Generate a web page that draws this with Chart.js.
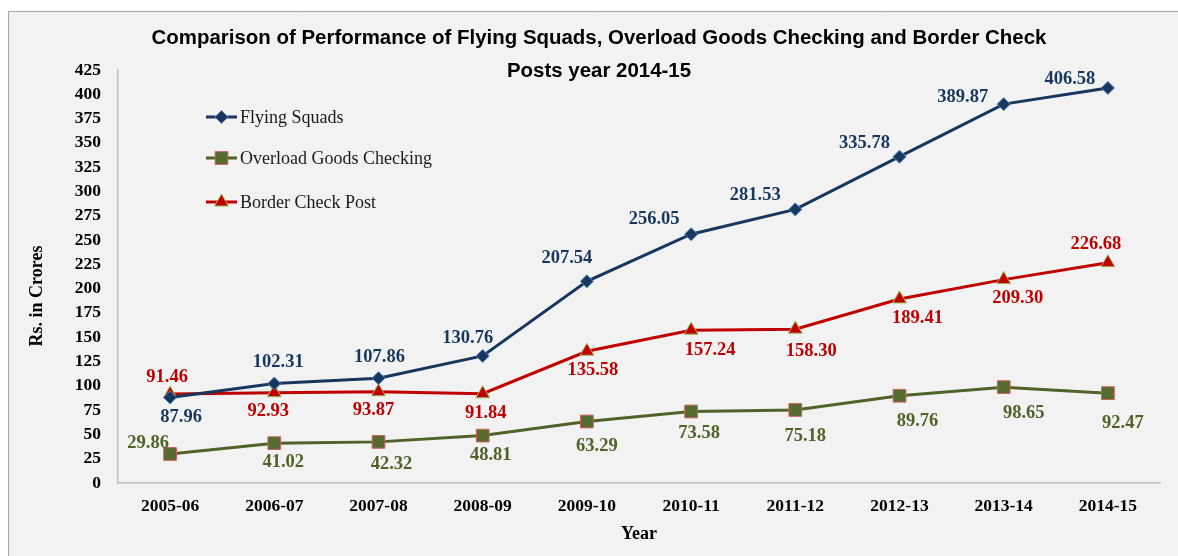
<!DOCTYPE html>
<html>
<head>
<meta charset="utf-8">
<script src="https://cdn.jsdelivr.net/npm/chart.js@4/dist/chart.umd.min.js"></script>
<style>
  html, body { margin: 0; padding: 0; background: #fff; }
  #wrap { width: 1178px; height: 556px; }
</style>
</head>
<body>
<div id="wrap"><canvas id="perfChart" width="1178" height="556"></canvas></div>
<script>
// chart data
const years = ["2005-06", "2006-07", "2007-08", "2008-09", "2009-10", "2010-11", "2011-12", "2012-13", "2013-14", "2014-15"];
const flyingSquads = [87.96, 102.31, 107.86, 130.76, 207.54, 256.05, 281.53, 335.78, 389.87, 406.58];
const overloadGoods = [29.86, 41.02, 42.32, 48.81, 63.29, 73.58, 75.18, 89.76, 98.65, 92.47];
const borderCheck = [91.46, 92.93, 93.87, 91.84, 135.58, 157.24, 158.30, 189.41, 209.30, 226.68];
const seriesNames = ["Flying Squads", "Overload Goods Checking", "Border Check Post"];
const yTicks = { min: 0, max: 425, step: 25 };

// where each value label sits relative to its point (dx, dy in px)
const fsLabelOffset = [[11, 20], [4, -21], [1, -21], [-15, -18], [-20, -23], [-37, -15], [-40, -14], [-35, -13], [-41, -7], [-38, -9]];
const ogLabelOffset = [[-22, -11], [9, 19], [13, 22], [8, 20], [10, 25], [8, 22], [10, 26], [18, 25], [20, 26], [15, 30]];
const bcLabelOffset = [[-3, -17], [-6, 19], [-5, 18], [3, 19], [6, 19], [19, 20], [16, 22], [18, 19], [14, 19], [-12, -19]];

const NAVY = "#17375e";
const OLIVE = "#4f6228";
const RED = "#c00000";
const SERIF = '"Liberation Serif", "Times New Roman", serif';

const frameAndText = {
  id: "frameAndText",
  beforeDraw(chart) {
    const ctx = chart.ctx;
    ctx.save();
    ctx.fillStyle = "#ffffff";
    ctx.fillRect(0, 0, chart.width, chart.height);
    ctx.fillStyle = "#f2f2f2";
    ctx.fillRect(8, 11, chart.width, chart.height);
    ctx.strokeStyle = "#a6a6a6";
    ctx.lineWidth = 1;
    ctx.beginPath();
    ctx.moveTo(8.5, chart.height);
    ctx.lineTo(8.5, 11.5);
    ctx.lineTo(chart.width, 11.5);
    ctx.stroke();
    ctx.restore();
  },
  afterDatasetsDraw(chart) {
    const ctx = chart.ctx;
    ctx.save();

    // value labels
    const offsets = [fsLabelOffset, ogLabelOffset, bcLabelOffset];
    ctx.font = "bold 18.5px " + SERIF;
    ctx.textAlign = "center";
    ctx.textBaseline = "middle";
    chart.data.datasets.forEach((ds, i) => {
      const meta = chart.getDatasetMeta(i);
      ctx.fillStyle = ds.borderColor;
      meta.data.forEach((pt, j) => {
        const off = offsets[i][j];
        ctx.fillText(ds.data[j].toFixed(2), pt.x + off[0], pt.y + off[1]);
      });
    });

    // legend
    const legendY = [117, 158, 202];
    ctx.font = "18px " + SERIF;
    ctx.textAlign = "left";
    chart.data.datasets.forEach((ds, i) => {
      const y = legendY[i];
      ctx.strokeStyle = ds.borderColor;
      ctx.lineWidth = 3;
      ctx.beginPath();
      ctx.moveTo(206, y);
      ctx.lineTo(237, y);
      ctx.stroke();
      ctx.fillStyle = ds.pointBackgroundColor;
      ctx.strokeStyle = ds.pointBorderColor;
      ctx.lineWidth = 1;
      Chart.helpers.drawPoint(ctx, {
        pointStyle: ds.pointStyle,
        radius: ds.pointRadius,
        borderWidth: 1
      }, 221.5, y);
      ctx.fillStyle = "#1a1a1a";
      ctx.fillText(ds.label, 240, y + 1);
    });

    // title
    const line1 = "Comparison of Performance of Flying Squads, Overload Goods Checking and Border Check";
    const line2 = "Posts year 2014-15";
    ctx.font = 'bold 20px "Liberation Sans", Arial, sans-serif';
    const w = ctx.measureText(line1).width;
    const size = 20 * 895 / w;
    ctx.font = 'bold ' + size.toFixed(2) + 'px "Liberation Sans", Arial, sans-serif';
    ctx.fillStyle = "#000";
    ctx.textAlign = "center";
    ctx.fillText(line1, 599, 38);
    ctx.fillText(line2, 599, 71);

    // y axis title
    ctx.font = "bold 18px " + SERIF;
    ctx.translate(37, 296);
    ctx.rotate(-Math.PI / 2);
    ctx.fillText("Rs. in Crores", 0, 0);
    ctx.restore();
  }
};

new Chart(document.getElementById("perfChart"), {
  type: "line",
  data: {
    labels: years,
    datasets: [
      {
        label: seriesNames[0],
        data: flyingSquads,
        borderColor: NAVY,
        borderWidth: 3,
        pointStyle: "rectRot",
        pointRadius: 6.5,
        pointBackgroundColor: NAVY,
        pointBorderColor: "#4f81bd",
        pointBorderWidth: 1,
        tension: 0
      },
      {
        label: seriesNames[1],
        data: overloadGoods,
        borderColor: OLIVE,
        borderWidth: 3,
        pointStyle: "rect",
        pointRadius: 9,
        pointBackgroundColor: "#566b30",
        pointBorderColor: "#d0605d",
        pointBorderWidth: 1,
        tension: 0
      },
      {
        label: seriesNames[2],
        data: borderCheck,
        borderColor: RED,
        borderWidth: 3,
        pointStyle: "triangle",
        pointRadius: 8,
        pointBackgroundColor: RED,
        pointBorderColor: "#9bbb59",
        pointBorderWidth: 1,
        tension: 0
      }
    ]
  },
  options: {
    responsive: false,
    animation: false,
    layout: { padding: { top: 70, left: 0, right: 18, bottom: 0 } },
    plugins: {
      legend: { display: false },
      title: { display: false },
      tooltip: { enabled: false }
    },
    scales: {
      x: {
        offset: true,
        grid: { display: false, offset: true },
        border: { display: true, color: "#bfbfbf", width: 1.5 },
        ticks: {
          color: "#000",
          font: { family: SERIF, size: 17.5, weight: "bold" },
          padding: 5,
          autoSkip: false,
          maxRotation: 0
        },
        title: {
          display: true,
          text: "Year",
          color: "#000",
          font: { family: SERIF, size: 18, weight: "bold" },
          padding: { top: 0, bottom: 11 }
        },
        afterFit(scale) { scale.height = 73; }
      },
      y: {
        min: yTicks.min,
        max: yTicks.max,
        grid: { display: false },
        border: { display: true, color: "#bfbfbf", width: 1.5 },
        ticks: {
          stepSize: yTicks.step,
          color: "#000",
          font: { family: SERIF, size: 17.5, weight: "bold" },
          padding: 9
        },
        afterFit(scale) { scale.width = 118; }
      }
    }
  },
  plugins: [frameAndText]
});
</script>
</body>
</html>
